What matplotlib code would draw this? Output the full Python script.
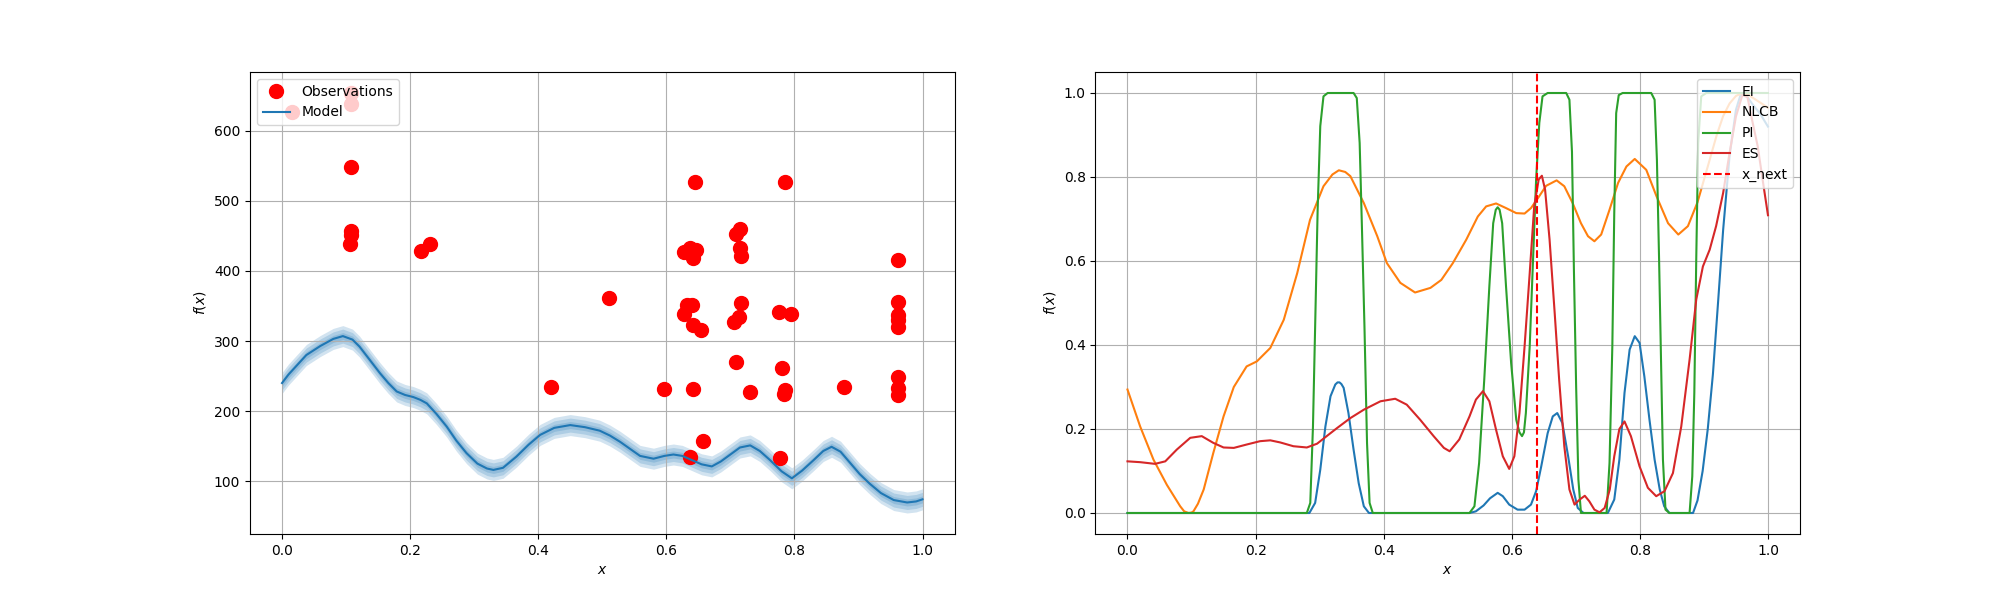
import numpy as np
import matplotlib
matplotlib.use("Agg")
import matplotlib.pyplot as plt

# ---------------- data: left panel ----------------
obs_x = [0.015, 0.107, 0.107, 0.107, 0.107, 0.107, 0.106,
         0.217, 0.231, 0.420, 0.511, 0.597,
         0.645, 0.627, 0.637, 0.646, 0.641, 0.632, 0.640, 0.628, 0.642, 0.654,
         0.641, 0.658, 0.637,
         0.709, 0.715, 0.715, 0.717, 0.717, 0.713, 0.705, 0.709, 0.730,
         0.786, 0.776, 0.794, 0.781, 0.786, 0.784, 0.778, 0.877,
         0.962, 0.961, 0.961, 0.961, 0.962, 0.961, 0.961, 0.961]
obs_y = [627, 654, 638, 549, 457, 451, 438,
         429, 438, 234, 361, 231,
         527, 427, 433, 430, 419, 352, 352, 339, 323, 316,
         231, 157, 134,
         453, 460, 433, 422, 354, 334, 327, 270, 227,
         527, 341, 338, 262, 230, 224, 133, 234,
         416, 355, 337, 330, 320, 249, 233, 223]

model_x = [0.0, 0.01, 0.02, 0.038, 0.06, 0.08, 0.095, 0.11, 0.121, 0.137, 0.153, 0.166,
           0.179, 0.192, 0.205, 0.216, 0.226, 0.241, 0.257, 0.272, 0.288, 0.305,
           0.32, 0.33, 0.345, 0.366, 0.385, 0.403, 0.425, 0.45, 0.473, 0.496,
           0.512, 0.528, 0.545, 0.559, 0.58, 0.597, 0.611, 0.625, 0.64, 0.655,
           0.671, 0.685, 0.70, 0.715, 0.731, 0.746, 0.762, 0.78, 0.796, 0.812,
           0.83, 0.845, 0.858, 0.872, 0.887, 0.902, 0.918, 0.935, 0.955, 0.976,
           0.99, 1.0]
model_mean = [240, 252, 262, 280, 293, 303, 307, 302, 292, 273, 254, 240,
              228, 223, 220, 216, 211, 196, 178, 158, 140, 125,
              118, 116, 119, 135, 152, 166, 176, 180, 177, 172,
              165, 156, 145, 136, 132, 136, 138, 136, 130, 124,
              121, 128, 138, 148, 151, 143, 130, 114, 104, 115,
              130, 143, 149, 142, 126, 110, 96, 83, 73, 69.5,
              71, 74]
model_std = 5.0

# ---------------- data: right panel ----------------
ei_x = [0.0, 0.284, 0.293, 0.301, 0.309, 0.317, 0.3245, 0.328, 0.331, 0.334, 0.3375,
        0.345, 0.353, 0.361, 0.369, 0.377, 0.534, 0.544, 0.556, 0.566, 0.578, 0.586,
        0.596, 0.609, 0.620, 0.630, 0.638, 0.646, 0.656, 0.664, 0.671, 0.679, 0.688,
        0.696, 0.703, 0.712, 0.750, 0.760, 0.768, 0.776, 0.784, 0.792, 0.7995,
        0.807, 0.815, 0.823, 0.831, 0.838, 0.846, 0.883, 0.890, 0.898, 0.906,
        0.914, 0.922, 0.930, 0.940, 0.950, 0.958, 0.966, 0.975, 0.988, 1.0]
ei_y = [0.0, 0.0, 0.024, 0.103, 0.206, 0.278, 0.306, 0.311, 0.311, 0.307, 0.298,
        0.238, 0.151, 0.071, 0.016, 0.0, 0.0, 0.004, 0.018, 0.035, 0.048, 0.040,
        0.020, 0.008, 0.008, 0.020, 0.052, 0.111, 0.190, 0.230, 0.238, 0.214, 0.135,
        0.056, 0.012, 0.0, 0.0, 0.032, 0.127, 0.286, 0.389, 0.421, 0.405,
        0.325, 0.222, 0.127, 0.056, 0.016, 0.0, 0.0, 0.03, 0.10, 0.20,
        0.33, 0.50, 0.674, 0.85, 0.96, 1.0, 0.995, 0.975, 0.95, 0.92]

nlcb_x = [0.0, 0.0198, 0.0406, 0.0615, 0.0823, 0.0885, 0.0953, 0.100, 0.103, 0.110,
          0.119, 0.134, 0.150, 0.166, 0.186, 0.202, 0.223, 0.244, 0.265, 0.285,
          0.306, 0.320, 0.330, 0.340, 0.348, 0.369, 0.390, 0.405, 0.426, 0.449,
          0.473, 0.490, 0.508, 0.529, 0.547, 0.560, 0.5755, 0.591, 0.607, 0.620,
          0.630, 0.641, 0.6536, 0.670, 0.682, 0.695, 0.708, 0.719, 0.729, 0.7396,
          0.7526, 0.766, 0.779, 0.792, 0.810, 0.826, 0.844, 0.860, 0.875, 0.890,
          0.909, 0.920, 0.930, 0.940, 0.950, 0.960, 0.970, 0.980, 0.990, 1.0]
nlcb_y = [0.294, 0.206, 0.127, 0.067, 0.016, 0.004, 0.0, 0.001, 0.004, 0.022,
          0.056, 0.143, 0.230, 0.300, 0.349, 0.361, 0.393, 0.460, 0.571, 0.698,
          0.778, 0.806, 0.816, 0.812, 0.802, 0.738, 0.659, 0.595, 0.548, 0.525,
          0.536, 0.555, 0.595, 0.651, 0.706, 0.730, 0.737, 0.726, 0.714, 0.713,
          0.726, 0.750, 0.779, 0.792, 0.778, 0.738, 0.690, 0.659, 0.647, 0.663,
          0.722, 0.786, 0.825, 0.843, 0.817, 0.754, 0.690, 0.663, 0.683, 0.740,
          0.841, 0.900, 0.945, 0.975, 0.993, 1.0, 0.995, 0.985, 0.975, 0.965]

pi_x = [0.0, 0.280, 0.2854, 0.2896, 0.293, 0.2969, 0.301, 0.306, 0.3125, 0.353,
        0.358, 0.3625, 0.366, 0.370, 0.374, 0.378, 0.383,
        0.534, 0.5417, 0.549, 0.557, 0.565, 0.571, 0.575, 0.578, 0.581, 0.585,
        0.591, 0.599, 0.607, 0.612, 0.616, 0.619, 0.622, 0.628, 0.633, 0.638,
        0.643, 0.648, 0.656, 0.685, 0.690, 0.694, 0.697, 0.7005, 0.704, 0.708,
        0.748, 0.7526, 0.757, 0.760, 0.763, 0.767, 0.773, 0.8177, 0.823, 0.8266,
        0.830, 0.833, 0.836, 0.840, 0.846,
        0.8776, 0.8818, 0.885, 0.888, 0.891, 0.8958, 0.9036, 1.0]
pi_y = [0.0, 0.0, 0.024, 0.206, 0.444, 0.722, 0.921, 0.992, 1.0, 1.0,
        0.988, 0.881, 0.683, 0.444, 0.167, 0.024, 0.0,
        0.0, 0.016, 0.119, 0.317, 0.540, 0.690, 0.722, 0.728, 0.722, 0.690,
        0.540, 0.357, 0.222, 0.192, 0.183, 0.192, 0.238, 0.397, 0.595, 0.794,
        0.929, 0.992, 1.0, 1.0, 0.984, 0.86, 0.58, 0.30, 0.08, 0.0,
        0.0, 0.119, 0.397, 0.714, 0.952, 0.995, 1.0, 1.0, 0.984, 0.841,
        0.603, 0.365, 0.127, 0.008, 0.0,
        0.0, 0.087, 0.286, 0.603, 0.881, 0.992, 1.0, 1.0]

es_x = [0.0, 0.02, 0.043, 0.059, 0.077, 0.098, 0.116, 0.134, 0.150, 0.166, 0.186,
        0.207, 0.223, 0.2385, 0.259, 0.280, 0.296, 0.311, 0.327, 0.348, 0.369,
        0.395, 0.418, 0.436, 0.457, 0.478, 0.494, 0.503, 0.518, 0.534, 0.544,
        0.555, 0.565, 0.5755, 0.586, 0.596, 0.604, 0.612, 0.620, 0.628, 0.635,
        0.642, 0.647, 0.652, 0.659, 0.667, 0.674, 0.682, 0.690, 0.698, 0.706,
        0.714, 0.721, 0.729, 0.737, 0.745, 0.753, 0.760, 0.768, 0.776, 0.786,
        0.7995, 0.8125, 0.8255, 0.8385, 0.8516, 0.8646, 0.8776, 0.888, 0.8984,
        0.909, 0.919, 0.930, 0.940, 0.950, 0.960, 0.968, 0.976, 0.984, 0.992, 1.0]
es_y = [0.123, 0.121, 0.117, 0.123, 0.151, 0.179, 0.183, 0.167, 0.156, 0.155, 0.163,
        0.171, 0.173, 0.168, 0.159, 0.156, 0.165, 0.183, 0.202, 0.226, 0.246,
        0.266, 0.272, 0.258, 0.222, 0.183, 0.155, 0.147, 0.175, 0.230, 0.270,
        0.290, 0.266, 0.198, 0.135, 0.105, 0.135, 0.238, 0.397, 0.571, 0.730,
        0.794, 0.803, 0.770, 0.651, 0.476, 0.317, 0.159, 0.056, 0.020, 0.032,
        0.041, 0.028, 0.008, 0.0016, 0.012, 0.056, 0.135, 0.200, 0.218, 0.183,
        0.111, 0.060, 0.040, 0.052, 0.095, 0.206, 0.365, 0.508, 0.587,
        0.627, 0.683, 0.762, 0.857, 0.944, 0.995, 0.99, 0.93, 0.873, 0.79, 0.709]

x_next = 0.639

# ---------------- plotting ----------------
fig, (ax1, ax2) = plt.subplots(1, 2, figsize=(20, 6), dpi=100)

mx = np.array(model_x)
mm = np.array(model_mean)
ax1.plot(obs_x, obs_y, 'ro', markersize=10, label='Observations')
ax1.plot(mx, mm, color='C0', label='Model')
for k in (1, 2, 3):
    ax1.fill_between(mx, mm - k * model_std, mm + k * model_std,
                     color='C0', alpha=0.2, linewidth=0)
ax1.set_xlabel('$x$')
ax1.set_ylabel('$f(x)$')
ax1.grid(True)
ax1.legend(loc='upper left')

ax2.plot(ei_x, ei_y, color='C0', label='EI')
ax2.plot(nlcb_x, nlcb_y, color='C1', label='NLCB')
ax2.plot(pi_x, pi_y, color='C2', label='PI')
ax2.plot(es_x, es_y, color='C3', label='ES')
ax2.axvline(x_next, color='r', linestyle='--', label='x_next')
ax2.set_xlabel('$x$')
ax2.set_ylabel('$f(x)$')
ax2.grid(True)
ax2.legend(loc='upper right')

fig.savefig('out.png', dpi=100)
